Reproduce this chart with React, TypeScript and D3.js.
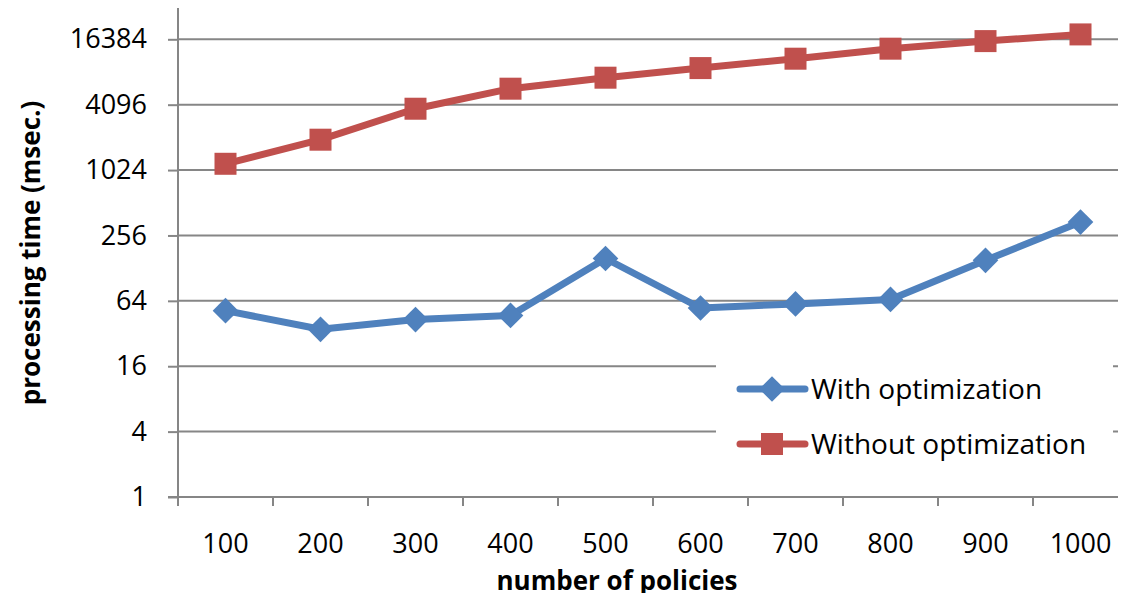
import React, { useEffect, useRef } from 'react';
import * as d3 from 'd3';

const policies = ['100', '200', '300', '400', '500', '600', '700', '800', '900', '1000'];
const withOpt = [52, 35, 43, 47, 157, 55, 60, 66, 151, 340];
const withoutOpt = [1170, 1950, 3760, 5750, 7260, 8900, 10860, 13430, 15770, 18170];
const yTicks = [1, 4, 16, 64, 256, 1024, 4096, 16384];
const seriesNames = ['With optimization', 'Without optimization'];

const BLUE = '#4f81bd';
const RED = '#c0504d';
const GRID = '#868686';
const FONT = '"Open Sans", sans-serif';

const App = () => {
  const svgRef = useRef<SVGSVGElement>(null);

  useEffect(() => {
    const svg = d3.select(svgRef.current);
    svg.selectAll('*').remove();

    const left = 178, right = 1128, bottom = 497, top = 8;

    // x: one band per policy count
    const x = d3.scaleBand().domain(policies).range([left, right]);
    // y: log base 2
    const y = d3.scaleLog().base(2).domain([1, 16384]).range([bottom, 39.3]);

    // gridlines
    svg.append('g')
      .selectAll('line')
      .data(yTicks.slice(1))
      .enter().append('line')
        .attr('x1', left).attr('x2', 1126)
        .attr('y1', d => y(d)).attr('y2', d => y(d))
        .attr('stroke', GRID).attr('stroke-width', 2);

    // y axis
    const yAxis = svg.append('g')
      .attr('transform', `translate(${left},0)`)
      .call(d3.axisLeft(y).tickValues(yTicks).tickFormat(d3.format('d')).tickSize(10).tickPadding(21));
    yAxis.select('.domain').remove();
    yAxis.selectAll('.tick line').attr('stroke', GRID).attr('stroke-width', 2);
    yAxis.selectAll('.tick text')
      .attr('font-family', FONT).attr('font-size', 27).attr('fill', '#000');
    svg.append('line')
      .attr('x1', left).attr('x2', left).attr('y1', top).attr('y2', bottom + 1)
      .attr('stroke', GRID).attr('stroke-width', 2);

    // x axis
    const xAxis = svg.append('g')
      .attr('transform', `translate(0,${bottom})`)
      .call(d3.axisBottom(x).tickSize(0).tickPadding(37));
    xAxis.select('.domain').remove();
    xAxis.selectAll('.tick text')
      .attr('font-family', FONT).attr('font-size', 27).attr('fill', '#000');
    svg.append('line')
      .attr('x1', left - 10).attr('x2', right).attr('y1', bottom).attr('y2', bottom)
      .attr('stroke', GRID).attr('stroke-width', 2);
    svg.append('g')
      .selectAll('line')
      .data(policies.concat(['end']))
      .enter().append('line')
        .attr('x1', (d, i) => left + i * x.step()).attr('x2', (d, i) => left + i * x.step())
        .attr('y1', bottom).attr('y2', bottom + 9)
        .attr('stroke', GRID).attr('stroke-width', 2);

    // axis titles
    svg.append('text')
      .attr('x', 617).attr('y', 590)
      .attr('text-anchor', 'middle')
      .attr('font-family', FONT).attr('font-weight', 'bold').attr('font-size', 26)
      .text('number of policies');
    svg.append('text')
      .attr('transform', 'translate(40,253) rotate(-90)')
      .attr('text-anchor', 'middle')
      .attr('font-family', FONT).attr('font-weight', 'bold').attr('font-size', 26)
      .text('processing time (msec.)');

    const cx = (d: string) => (x(d) as number) + x.bandwidth() / 2;
    const line = d3.line<number>()
      .x((d, i) => cx(policies[i]))
      .y(d => y(d));

    // without optimization (red squares)
    svg.append('path')
      .datum(withoutOpt)
      .attr('d', line)
      .attr('fill', 'none').attr('stroke', RED).attr('stroke-width', 7)
      .attr('stroke-linejoin', 'round');
    svg.append('g')
      .selectAll('rect')
      .data(withoutOpt)
      .enter().append('rect')
        .attr('x', (d, i) => cx(policies[i]) - 11)
        .attr('y', d => y(d) - 11)
        .attr('width', 22).attr('height', 22)
        .attr('fill', RED);

    // with optimization (blue diamonds)
    const diamond = d3.symbol().type(d3.symbolDiamond2).size(420);
    svg.append('path')
      .datum(withOpt)
      .attr('d', line)
      .attr('fill', 'none').attr('stroke', BLUE).attr('stroke-width', 7)
      .attr('stroke-linejoin', 'round');
    svg.append('g')
      .selectAll('path')
      .data(withOpt)
      .enter().append('path')
        .attr('d', diamond)
        .attr('transform', (d, i) => `translate(${cx(policies[i])},${y(d)})`)
        .attr('fill', BLUE);

    // legend
    const legend = svg.append('g');
    legend.append('rect')
      .attr('x', 716).attr('y', 350).attr('width', 397).attr('height', 120)
      .attr('fill', '#fff');
    const colors = [BLUE, RED];
    seriesNames.forEach((name, i) => {
      const ly = 389 + i * 55;
      legend.append('line')
        .attr('x1', 740).attr('x2', 805).attr('y1', ly).attr('y2', ly)
        .attr('stroke', colors[i]).attr('stroke-width', 7).attr('stroke-linecap', 'round');
      if (i === 0) {
        legend.append('path')
          .attr('d', diamond)
          .attr('transform', `translate(772,${ly})`)
          .attr('fill', BLUE);
      } else {
        legend.append('rect')
          .attr('x', 761).attr('y', ly - 11).attr('width', 22).attr('height', 22)
          .attr('fill', RED);
      }
      legend.append('text')
        .attr('x', 811).attr('y', ly + 10)
        .attr('font-family', FONT).attr('font-size', 28)
        .text(name);
    });
  }, []);

  return (
    <svg ref={svgRef} width="1126" height="601" style={{ display: 'block', margin: -8 }}>
    </svg>
  );
};

export default App;
